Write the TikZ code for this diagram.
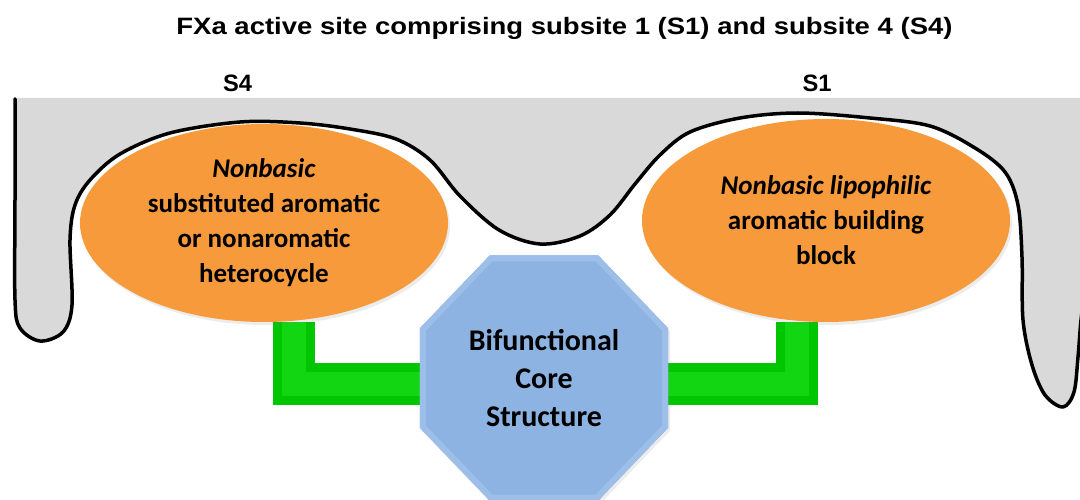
\documentclass[tikz,border=0pt]{standalone}
\usepackage{fontspec}
\setmainfont{Carlito}
\newfontfamily\headfont[FakeStretch=1.16]{Liberation Sans}
\newfontfamily\labelfont{Liberation Sans}
\usetikzlibrary{shapes.geometric,shadows,calc}
\pgfdeclarelayer{bg}
\pgfdeclarelayer{conn}
\pgfdeclarelayer{oct}
\pgfsetlayers{bg,conn,oct,main}

\definecolor{pocketgray}{HTML}{D9D9D9}
\definecolor{groupfill}{HTML}{F79A3C}
\definecolor{corefill}{HTML}{8DB3E2}
\definecolor{corerim}{HTML}{9CBEE9}
\definecolor{linkouter}{HTML}{00C600}
\definecolor{linkinner}{HTML}{12D612}

\tikzset{
  headtext/.style={font=\headfont\bfseries\fontsize{23.7}{28}\selectfont, inner sep=0pt},
  sitetext/.style={font=\labelfont\bfseries\fontsize{23.7}{28}\selectfont, inner sep=0pt},
  pocketline/.style={line width=3.5pt, line join=round, line cap=round},
  group/.style={ellipse, fill=groupfill, align=center, inner sep=0pt,
    font=\bfseries\fontsize{27}{35}\selectfont,
    drop shadow={opacity=0.15, shadow xshift=2pt, shadow yshift=-3pt}},
  corebox/.style={rectangle, inner sep=0pt, minimum width=248pt, minimum height=245pt,
    align=center, font=\bfseries\fontsize{30}{38}\selectfont},
  linkbar/.style={line width=42pt, draw=linkouter, line join=miter, line cap=butt},
  linkcore/.style={line width=24pt, draw=linkinner, line join=miter, line cap=butt},
}

\begin{document}
\begin{tikzpicture}[x=1pt, y=-1pt]
\useasboundingbox (0,0) rectangle (1080,500);

% title and subsite labels
\node[headtext, anchor=base] (title) at (564.5,35) {FXa active site comprising subsite 1 (S1) and subsite 4 (S4)};
\node[sitetext, anchor=base] (s4) at (237.5,92) {S4};
\node[sitetext, anchor=base] (s1) at (817,92) {S1};

% protein surface with the two pockets
\begin{pgfonlayer}{bg}
\fill[pocketgray] (12,98) -- plot[smooth, tension=0.55] coordinates {
  (15,99) (15,200) (15,300) (20,328) (40,341) (63,332) (72,305) (70,240)
  (75,205) (90,180) (120,154) (170,133) (240,122) (300,123) (350,129)
  (396,139) (430,160) (460,196) (499,230) (540,244) (580,236) (610,215)
  (635,184) (660,155) (690,132) (740,118) (798,113) (870,118) (930,126)
  (975,148) (1005,172) (1018,205) (1022,257) (1023,320) (1032,365)
  (1045,395) (1063,407) (1074,392) (1078,357) (1081,320) (1085,290)}
  -- (1090,290) -- (1090,98) -- cycle;
\draw[pocketline] plot[smooth, tension=0.55] coordinates {
  (15,99) (15,200) (15,300) (20,328) (40,341) (63,332) (72,305) (70,240)
  (75,205) (90,180) (120,154) (170,133) (240,122) (300,123) (350,129)
  (396,139) (430,160) (460,196) (499,230) (540,244) (580,236) (610,215)
  (635,184) (660,155) (690,132) (740,118) (798,113) (870,118) (930,126)
  (975,148) (1005,172) (1018,205) (1022,257) (1023,320) (1032,365)
  (1045,395) (1063,407) (1074,392) (1078,357) (1081,320) (1085,290)};
\end{pgfonlayer}

% building blocks sitting in S4 and S1
\node[group, minimum width=368pt, minimum height=198pt] (s4group) at (264,223)
  {\textit{Nonbasic}\\substituted aromatic\\or nonaromatic\\heterocycle};
\node[group, minimum width=368pt, minimum height=203pt] (s1group) at (826,220.5)
  {\textit{Nonbasic lipophilic}\\aromatic building\\block};

% central scaffold
\node[corebox] (core) at (544,378) {Bifunctional\\Core\\Structure};
\newcommand\octpath{([xshift=70pt]core.north west) -- ([xshift=-70pt]core.north east)
  -- ([yshift=-73pt]core.north east) -- ([yshift=73pt]core.south east)
  -- ([xshift=-70pt]core.south east) -- ([xshift=70pt]core.south west)
  -- ([yshift=73pt]core.south west) -- ([yshift=-73pt]core.north west) -- cycle}
\begin{pgfonlayer}{oct}
\fill[corefill, drop shadow={opacity=0.15, shadow xshift=2pt, shadow yshift=-3pt}] \octpath;
\begin{scope}
  \clip \octpath;
  \draw[corerim, line width=12pt, line join=miter] \octpath;
\end{scope}
\end{pgfonlayer}

% linkers from the scaffold to the two building blocks
\begin{pgfonlayer}{conn}
\draw[linkbar] ([xshift=30pt]s4group.south) |- ([yshift=-6pt]core.west);
\draw[linkcore] ([xshift=30pt]s4group.south) |- ([yshift=-6pt]core.west);
\draw[linkbar] ([xshift=-29pt]s1group.south) |- ([yshift=-6pt]core.east);
\draw[linkcore] ([xshift=-29pt]s1group.south) |- ([yshift=-6pt]core.east);
\end{pgfonlayer}
\end{tikzpicture}
\end{document}
